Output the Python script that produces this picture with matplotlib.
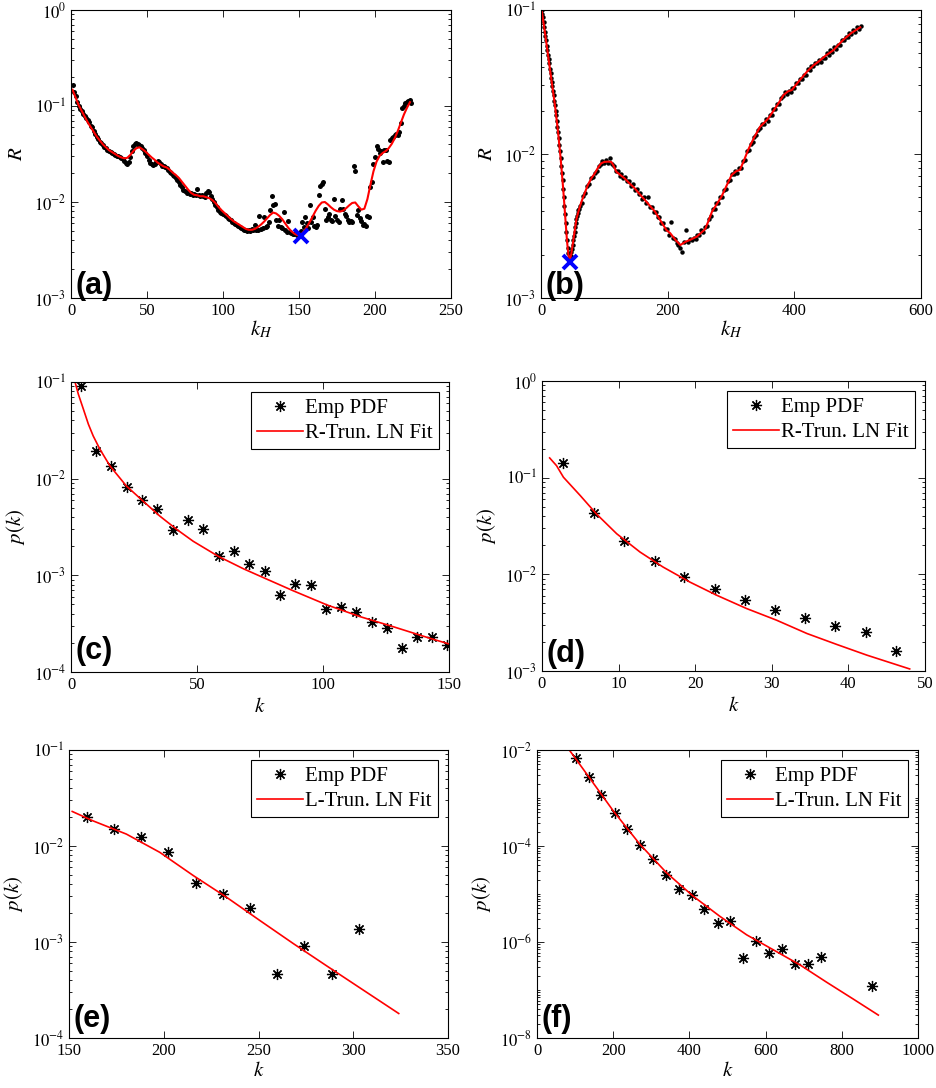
import numpy as np
import matplotlib
matplotlib.use('Agg')
import matplotlib.pyplot as plt
from matplotlib.ticker import FixedLocator, LogLocator, NullFormatter, FuncFormatter

plt.rcParams['font.family'] = ['Liberation Serif', 'DejaVu Serif']
plt.rcParams['mathtext.fontset'] = 'stix'

# ---------------- panel (a): R vs k_H ----------------
# dots, one per k_H = 1..224, stored as log10(R)
ka_dots = np.arange(1, 225)
ra_dots_log = [
    -0.78, -0.85, -0.90, -0.96, -1.00, -1.03, -1.05, -1.08, -1.10, -1.12,
    -1.15, -1.17, -1.21, -1.22, -1.26, -1.29, -1.32, -1.34, -1.37, -1.39,
    -1.41, -1.43, -1.44, -1.46, -1.47, -1.48, -1.49, -1.50, -1.51, -1.52,
    -1.52, -1.53, -1.54, -1.55, -1.57, -1.59, -1.60, -1.58, -1.53, -1.47,
    -1.42, -1.40, -1.39, -1.40, -1.41, -1.42, -1.44, -1.46, -1.49, -1.52,
    -1.56, -1.59, -1.60, -1.61, -1.60, -1.58, -1.57, -1.58, -1.60, -1.62,
    -1.63, -1.64, -1.65, -1.67, -1.69, -1.70, -1.72, -1.73, -1.75, -1.77,
    -1.79, -1.82, -1.84, -1.87, -1.89, -1.91, -1.90, -1.92, -1.91, -1.93,
    -1.92, -1.93, -1.86, -1.93, -1.94, -1.93, -1.94, -1.95, -1.91, -1.89,
    -1.90, -1.94, -1.97, -2.00, -2.03, -2.05, -2.08, -2.10, -2.11, -2.12,
    -2.14, -2.15, -2.17, -2.18, -2.19, -2.21, -2.22, -2.23, -2.24, -2.25,
    -2.26, -2.27, -2.28, -2.29, -2.29, -2.30, -2.29, -2.30, -2.28, -2.29,
    -2.24, -2.29, -2.29, -2.15, -2.28, -2.27, -2.16, -2.26, -2.25, -2.21,
    -2.08, -1.94, -2.03, -2.02, -2.19, -2.25, -2.19, -2.26, -2.27, -2.10,
    -2.29, -2.31, -2.20, -2.31, -2.32, -2.33, -2.33, -2.32, -2.34, -2.33,
    -2.30, -2.21, -2.26, -2.16, -2.22, -2.27, -2.03, -2.21, -2.16, -2.25,
    -2.26, -2.24, -1.93, -1.83, -1.81, -1.79, -2.07, -2.19, -2.16, -2.13,
    -2.19, -2.20, -1.97, -2.15, -2.19, -2.21, -2.07, -1.98, -2.07, -2.12,
    -2.15, -2.19, -2.21, -2.20, -2.21, -1.63, -1.68, -2.14, -2.08, -2.17,
    -2.20, -2.24, -2.23, -2.25, -2.15, -2.16, -1.84, -1.79, -1.60, -1.53,
    -1.42, -1.45, -1.49, -1.47, -1.58, -1.46, -1.46, -1.57, -1.58, -1.35,
    -1.33, -1.32, -1.30, -1.29, -1.30, -1.27, -1.18, -1.02, -1.00, -0.97,
    -0.96, -0.95, -0.94, -0.97,
]
# smooth fit, odd k_H = 1..223
ka_fit = np.arange(1, 225, 2)
ra_fit_log = [
    -0.83, -0.91, -0.99, -1.05, -1.11, -1.17, -1.22, -1.27, -1.32, -1.36,
    -1.40, -1.43, -1.46, -1.48, -1.50, -1.52, -1.535, -1.545, -1.54, -1.51,
    -1.47, -1.44, -1.43, -1.45, -1.475, -1.505, -1.535, -1.56, -1.59, -1.61,
    -1.63, -1.64, -1.665, -1.695, -1.72, -1.75, -1.79, -1.83, -1.87, -1.905,
    -1.925, -1.93, -1.94, -1.94, -1.95, -1.96, -1.98, -2.01, -2.05, -2.085,
    -2.115, -2.145, -2.175, -2.20, -2.22, -2.24, -2.26, -2.28, -2.29, -2.29,
    -2.28, -2.26, -2.235, -2.205, -2.17, -2.135, -2.11, -2.12, -2.145, -2.18,
    -2.225, -2.27, -2.305, -2.33, -2.345, -2.35, -2.31, -2.265, -2.21, -2.15,
    -2.09, -2.04, -2.005, -2.00, -2.025, -2.055, -2.08, -2.095, -2.10, -2.09,
    -2.065, -2.035, -2.01, -2.005, -2.045, -2.08, -2.07, -1.97, -1.82, -1.68,
    -1.58, -1.52, -1.49, -1.47, -1.44, -1.395, -1.335, -1.26, -1.175, -1.09,
    -1.02, -0.96,
]
ka_min, ra_min = 151, 0.00447

# ---------------- panel (b): R vs k_H ----------------
kb_dots_1 = np.arange(1, 61)
rb_dots_log_1 = [
    -1.00, -1.03, -1.05, -1.08, -1.12, -1.15, -1.18, -1.21, -1.25, -1.28,
    -1.31, -1.34, -1.37, -1.41, -1.44, -1.47, -1.50, -1.53, -1.56, -1.59,
    -1.63, -1.66, -1.70, -1.73, -1.77, -1.81, -1.85, -1.89, -1.94, -1.98,
    -2.03, -2.08, -2.13, -2.18, -2.24, -2.30, -2.36, -2.42, -2.48, -2.54,
    -2.60, -2.65, -2.69, -2.72, -2.75, -2.73, -2.71, -2.68, -2.66, -2.63,
    -2.60, -2.57, -2.54, -2.51, -2.48, -2.45, -2.43, -2.41, -2.39, -2.38,
]
kb_dots_2 = np.arange(61, 506, 3)
rb_dots_log_2 = [
    -2.36, -2.34, -2.29, -2.27, -2.22, -2.21, -2.17, -2.16, -2.13, -2.12,
    -2.08, -2.07, -2.05, -2.06, -2.04, -2.06, -2.03, -2.07, -2.08, -2.12,
    -2.12, -2.15, -2.14, -2.17, -2.16, -2.19, -2.19, -2.22, -2.21, -2.25,
    -2.24, -2.28, -2.27, -2.31, -2.30, -2.34, -2.30, -2.37, -2.37, -2.40,
    -2.40, -2.44, -2.44, -2.48, -2.48, -2.52, -2.52, -2.56, -2.47, -2.58,
    -2.59, -2.62, -2.63, -2.65, -2.68, -2.61, -2.53, -2.61, -2.59, -2.60,
    -2.58, -2.59, -2.56, -2.56, -2.53, -2.54, -2.51, -2.50, -2.45, -2.43,
    -2.38, -2.38, -2.34, -2.34, -2.30, -2.30, -2.25, -2.24, -2.19, -2.18,
    -2.14, -2.14, -2.12, -2.13, -2.10, -2.10, -2.05, -2.04, -1.98, -1.97,
    -1.93, -1.92, -1.88, -1.87, -1.83, -1.82, -1.79, -1.79, -1.76, -1.77,
    -1.73, -1.73, -1.69, -1.69, -1.65, -1.65, -1.61, -1.60, -1.57, -1.58,
    -1.56, -1.57, -1.54, -1.54, -1.51, -1.51, -1.48, -1.48, -1.45, -1.45,
    -1.41, -1.42, -1.39, -1.39, -1.37, -1.37, -1.35, -1.36, -1.33, -1.33,
    -1.30, -1.31, -1.28, -1.29, -1.26, -1.27, -1.24, -1.24, -1.21, -1.21,
    -1.19, -1.19, -1.16, -1.17, -1.14, -1.15, -1.12, -1.13, -1.11,
]
kb_fit = [1, 6, 11, 16, 22, 27, 31, 35, 38, 41,
          43, 45, 46, 48, 50, 53, 56, 60, 64, 70,
          74, 80, 85, 90, 95, 100, 106, 111, 114, 119,
          125, 132, 140, 148, 156, 164, 172, 180, 188, 198,
          204, 212, 220, 228, 235, 246, 252, 259, 264, 270,
          278, 285, 293, 301, 308, 314, 320, 327, 336, 346,
          352, 359, 367, 375, 383, 390, 396, 408, 420, 430,
          438, 450, 462, 470, 477, 490, 504]
rb_fit_log = [-1.00, -1.15, -1.31, -1.47, -1.66, -1.85, -2.03, -2.24, -2.42, -2.60,
              -2.69, -2.755, -2.73, -2.69, -2.63, -2.54, -2.45, -2.385, -2.33, -2.26,
              -2.215, -2.165, -2.134, -2.095, -2.065, -2.055, -2.053, -2.055, -2.076, -2.123,
              -2.145, -2.169, -2.205, -2.238, -2.28, -2.319, -2.36, -2.40, -2.458, -2.528,
              -2.55, -2.595, -2.632, -2.61, -2.597, -2.574, -2.55, -2.523, -2.47, -2.40,
              -2.345, -2.296, -2.22, -2.146, -2.12, -2.111, -2.05, -1.972, -1.89, -1.81,
              -1.785, -1.752, -1.70, -1.648, -1.59, -1.565, -1.556, -1.49, -1.428, -1.385,
              -1.359, -1.315, -1.278, -1.24, -1.208, -1.16, -1.12]
kb_min, rb_min = 45, 0.00178

# ---------------- panels (c)-(f): empirical PDF and fits ----------------
kc = [4.0, 9.9, 15.9, 22.1, 28.3, 34.3, 40.4, 46.4, 52.5, 58.7, 64.6, 70.6, 76.8,
      82.9, 89.0, 95.1, 101.1, 107.3, 113.1, 119.3, 125.3, 131.2, 137.2, 143.3, 149.2]
pc = [0.090, 0.0194, 0.0135, 0.00826, 0.0060, 0.00488, 0.00293, 0.00378, 0.00303,
      0.00160, 0.00180, 0.00131, 0.00110, 0.00063, 0.00082, 0.000786, 0.000447,
      0.000475, 0.000422, 0.000332, 0.000283, 0.000178, 0.000232, 0.000230, 0.000189]
kc_fit = [1.0, 1.6, 2.9, 4.9, 6.9, 8.8, 11.5, 15.5, 22, 28.6, 35.3, 42, 48.5, 58.5,
          68.4, 78.3, 88.2, 101.5, 114.7, 127.9, 142.5, 150]
pc_fit = [0.117, 0.1, 0.0750, 0.0525, 0.0366, 0.0277, 0.0201, 0.0135, 0.00839, 0.00586,
          0.00409, 0.00298, 0.00225, 0.00157, 0.00117, 0.000899, 0.000692, 0.000495,
          0.000374, 0.000294, 0.000223, 0.000195]

kd = [2.8, 6.8, 10.7, 14.7, 18.6, 22.6, 26.5, 30.4, 34.3, 38.3, 42.3, 46.2]
pd_ = [0.1405, 0.0428, 0.0221, 0.0137, 0.0094, 0.0070, 0.00548, 0.00432, 0.00357,
       0.00293, 0.00251, 0.00162]
kd_fit = [1.0, 1.9, 2.8, 5.0, 7.1, 9.75, 12.8, 15.8, 19.3, 22.8, 26.7, 30.6, 34.6,
          38.5, 42.4, 48.0]
pd_fit = [0.160, 0.133, 0.101, 0.0652, 0.0422, 0.0263, 0.0170, 0.0119, 0.00832,
          0.00608, 0.00443, 0.00336, 0.00244, 0.00188, 0.00146, 0.00105]

ke = [159.6, 173.7, 188.2, 202.3, 216.8, 231.1, 245.5, 259.8, 274.2, 288.7, 302.8]
pe = [0.0201, 0.0152, 0.0123, 0.0086, 0.00409, 0.00317, 0.00227, 0.000461,
      0.000914, 0.000461, 0.001374]
ke_fit = [151.7, 162.6, 180.3, 197.9, 215.6, 233.2, 250.8, 268.5, 286.1, 303.7, 324.0]
pe_fit = [0.0229, 0.0183, 0.0133, 0.00859, 0.00492, 0.00292, 0.00167, 0.000959,
          0.000562, 0.000331, 0.000180]

kf = [102.4, 136.5, 168, 203.9, 236.2, 270.3, 305.3, 337.8, 371.9, 406, 438.3,
      474.3, 506.6, 541.5, 575.6, 608.9, 643, 677.2, 710.5, 745.4, 878.5]
pf = [6.7e-3, 2.72e-3, 1.15e-3, 4.97e-4, 2.22e-4, 1.06e-4, 5.4e-5, 2.47e-5, 1.28e-5,
      9.6e-6, 4.9e-6, 2.5e-6, 2.7e-6, 4.7e-7, 1.07e-6, 6.0e-7, 7.3e-7, 3.5e-7,
      3.5e-7, 4.8e-7, 1.2e-7]
kf_fit = [84.8, 136.5, 200.3, 270.3, 340.3, 410.3, 480.3, 550.3, 620.3, 690.3,
          760.3, 830.3, 895.9]
pf_fit = [1.0e-2, 2.72e-3, 5.37e-4, 1.08e-4, 2.75e-5, 8.95e-6, 3.41e-6, 1.41e-6,
          6.87e-7, 3.33e-7, 1.45e-7, 6.46e-8, 3.0e-8]

STAR = (8, 2, 0)
W, H = 936.0, 1088.0


def make_axes(fig, left, right, top, bottom):
    return fig.add_axes([left / W, 1 - bottom / H, (right - left) / W, (bottom - top) / H])


def style(ax, xlim, xticks, ylim, ymajor, xlabel, ylabel, letter, letter_y, xpad):
    ax.set_yscale('log')
    ax.set_xlim(*xlim)
    ax.set_ylim(*ylim)
    ax.set_xticks(xticks)
    ax.yaxis.set_major_locator(FixedLocator(ymajor))
    ax.yaxis.set_minor_locator(LogLocator(base=10, subs=np.arange(1, 10), numticks=60))
    ax.yaxis.set_minor_formatter(NullFormatter())
    ax.yaxis.set_major_formatter(FuncFormatter(lambda v, p: r'$10^{%d}$' % round(np.log10(v))))
    ax.tick_params(which='both', direction='in', top=True, right=True, labelsize=12, width=0.6)
    ax.tick_params(which='major', length=5)
    ax.tick_params(which='minor', length=2.5)
    for s in ax.spines.values():
        s.set_linewidth(0.8)
    ax.set_xlabel(xlabel, fontsize=15, labelpad=xpad)
    ax.set_ylabel(ylabel, fontsize=15, labelpad=5)
    ax.text(0.013, letter_y, letter, transform=ax.transAxes, fontsize=22,
            fontweight='bold', family='Liberation Sans', va='bottom', ha='left')


def add_legend(ax):
    leg = ax.legend(loc='upper right', fontsize=15, numpoints=1, fancybox=False,
                    edgecolor='black', framealpha=1, borderpad=0.3, labelspacing=0.25,
                    handlelength=2.2, handletextpad=0.1, borderaxespad=0.5)
    leg.get_frame().set_linewidth(0.8)


fig = plt.figure(figsize=(9.36, 10.88), dpi=100)

# (a)
ax = make_axes(fig, 71, 451, 10, 298)
ax.plot(ka_dots, 10.0 ** np.array(ra_dots_log), 'o', color='black', ms=3.6, mew=0)
ax.plot(ka_fit, 10.0 ** np.array(ra_fit_log), '-', color='red', lw=1.5)
ax.plot([ka_min], [ra_min], 'x', color='blue', ms=10, mew=2.8)
style(ax, (0, 250), [0, 50, 100, 150, 200, 250], (1e-3, 1), [1e-3, 1e-2, 1e-1, 1],
      r'$k_H$', r'$R$', '(a)', -0.01, 0)

# (b)
ax = make_axes(fig, 541, 921, 10, 298)
ax.plot(kb_dots_1, 10.0 ** np.array(rb_dots_log_1), 'o', color='black', ms=3.2, mew=0)
ax.plot(kb_dots_2, 10.0 ** np.array(rb_dots_log_2), 'o', color='black', ms=3.2, mew=0)
ax.plot(kb_fit, 10.0 ** np.array(rb_fit_log), '-', color='red', lw=1.5)
ax.plot([kb_min], [rb_min], 'x', color='blue', ms=10, mew=2.8)
style(ax, (0, 600), [0, 200, 400, 600], (1e-3, 1e-1), [1e-3, 1e-2, 1e-1],
      r'$k_H$', r'$R$', '(b)', -0.01, 0)

# (c)
ax = make_axes(fig, 71, 449, 382, 672)
ax.plot(kc, pc, ls='none', marker=STAR, color='black', ms=8, mew=0.9, label='Emp PDF')
ax.plot(kc_fit, pc_fit, '-', color='red', lw=1.2, label='R-Trun. LN Fit')
style(ax, (0, 150), [0, 50, 100, 150], (1e-4, 1e-1), [1e-4, 1e-3, 1e-2, 1e-1],
      r'$k$', r'$p(k)$', '(c)', 0.02, 4)
add_legend(ax)

# (d)
ax = make_axes(fig, 542, 925, 381, 671)
ax.plot(kd, pd_, ls='none', marker=STAR, color='black', ms=8, mew=0.9, label='Emp PDF')
ax.plot(kd_fit, pd_fit, '-', color='red', lw=1.2, label='R-Trun. LN Fit')
style(ax, (0, 50), [0, 10, 20, 30, 40, 50], (1e-3, 1), [1e-3, 1e-2, 1e-1, 1],
      r'$k$', r'$p(k)$', '(d)', 0.008, 4)
add_legend(ax)

# (e)
ax = make_axes(fig, 69, 448, 750, 1038)
ax.plot(ke, pe, ls='none', marker=STAR, color='black', ms=8, mew=0.9, label='Emp PDF')
ax.plot(ke_fit, pe_fit, '-', color='red', lw=1.2, label='L-Trun. LN Fit')
style(ax, (150, 350), [150, 200, 250, 300, 350], (1e-4, 1e-1), [1e-4, 1e-3, 1e-2, 1e-1],
      r'$k$', r'$p(k)$', '(e)', 0.015, 2)
add_legend(ax)

# (f)
ax = make_axes(fig, 537, 918, 750, 1038)
ax.plot(kf, pf, ls='none', marker=STAR, color='black', ms=8, mew=0.9, label='Emp PDF')
ax.plot(kf_fit, pf_fit, '-', color='red', lw=1.2, label='L-Trun. LN Fit')
style(ax, (0, 1000), [0, 200, 400, 600, 800, 1000], (1e-8, 1e-2), [1e-8, 1e-6, 1e-4, 1e-2],
      r'$k$', r'$p(k)$', '(f)', 0.015, 2)
add_legend(ax)

fig.savefig('out.png', dpi=100)
